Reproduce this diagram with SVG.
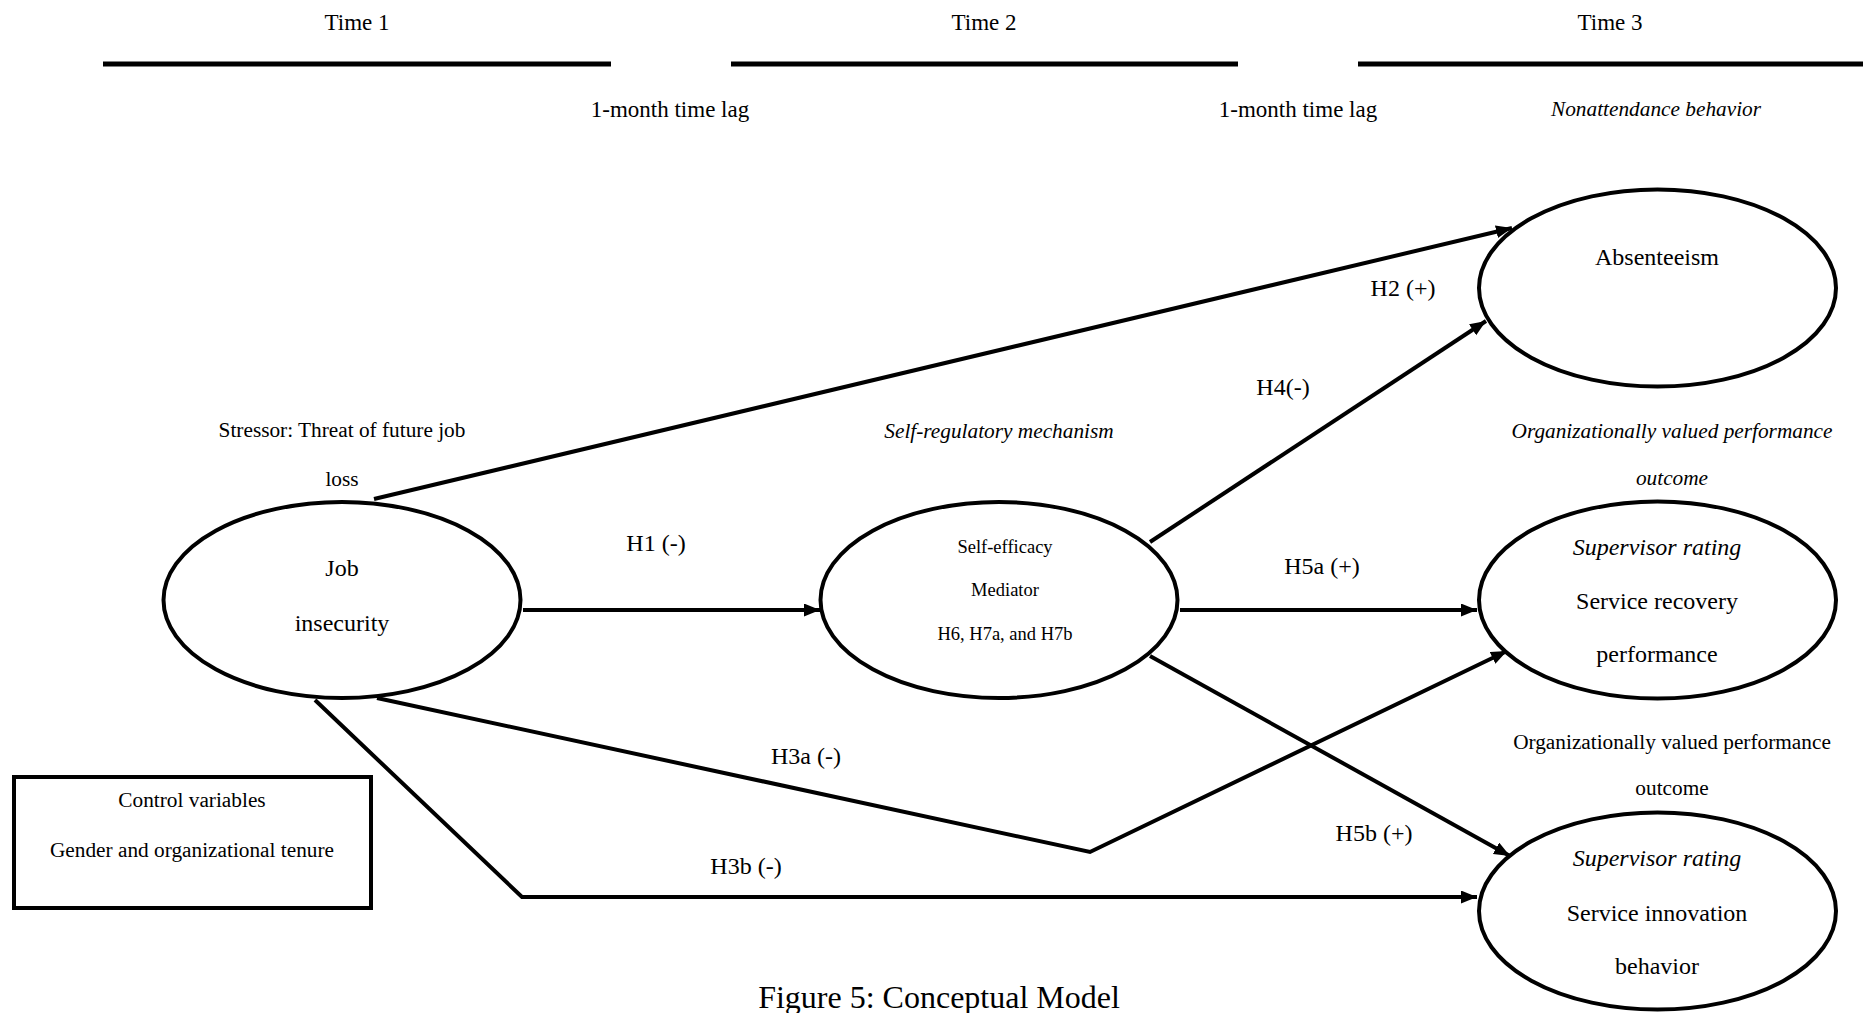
<svg xmlns="http://www.w3.org/2000/svg" width="1863" height="1013" viewBox="0 0 1863 1013" font-family="'Liberation Serif', 'Times New Roman', serif">
<style>
text{font-family:"Liberation Serif","Times New Roman",serif;fill:#000;text-anchor:middle}
.t23{font-size:23px}
.t21{font-size:21.3px}
.t24{font-size:24px}
.t18{font-size:18.5px}
.it{font-style:italic}
.node{fill:#fff;stroke:#000;stroke-width:4}
.bar{stroke:#000;stroke-width:5}
.conn{fill:none;stroke:#000;stroke-width:4;stroke-linejoin:miter}
</style>
<defs>
<marker id="arrow" markerUnits="userSpaceOnUse" markerWidth="18" markerHeight="14" refX="16" refY="6.5" orient="auto">
<path d="M0,0 L16,6.5 L0,13 z" fill="#000"/>
</marker>
</defs>
<rect width="1863" height="1013" fill="#fff"/>
<g id="timeline">
<line class="bar" x1="103" y1="64" x2="611" y2="64"/>
<line class="bar" x1="731" y1="64" x2="1238" y2="64"/>
<line class="bar" x1="1358" y1="64" x2="1863" y2="64"/>
<text class="t23" x="357" y="30">Time 1</text>
<text class="t23" x="984" y="30">Time 2</text>
<text class="t23" x="1610" y="30">Time 3</text>
<text class="t23" x="670" y="117">1-month time lag</text>
<text class="t23" x="1298" y="117">1-month time lag</text>
<text class="t21 it" x="1656" y="116">Nonattendance behavior</text>
</g>
<g id="connectors">
<line class="conn" x1="374" y1="499" x2="1512" y2="228" marker-end="url(#arrow)"/>
<line class="conn" x1="523" y1="610" x2="820" y2="610" marker-end="url(#arrow)"/>
<line class="conn" x1="1150" y1="542" x2="1486" y2="321" marker-end="url(#arrow)"/>
<line class="conn" x1="1180" y1="610" x2="1477" y2="610" marker-end="url(#arrow)"/>
<line class="conn" x1="1150" y1="656" x2="1510" y2="856" marker-end="url(#arrow)"/>
<polyline class="conn" points="377,698 1090,852 1507,651" marker-end="url(#arrow)"/>
<polyline class="conn" points="315,700 522,897 1477,897" marker-end="url(#arrow)"/>
<text class="t24" x="656" y="551">H1 (-)</text>
<text class="t24" x="1403" y="296">H2 (+)</text>
<text class="t24" x="1283" y="395">H4(-)</text>
<text class="t24" x="1322" y="574">H5a (+)</text>
<text class="t24" x="806" y="764">H3a (-)</text>
<text class="t24" x="746" y="874">H3b (-)</text>
<text class="t24" x="1374" y="841">H5b (+)</text>
</g>
<g id="job-insecurity">
<text class="t21" x="342" y="437">Stressor: Threat of future job</text>
<text class="t21" x="342" y="486">loss</text>
<ellipse class="node" cx="342" cy="600" rx="178.5" ry="98"/>
<text class="t24" x="342" y="576">Job</text>
<text class="t24" x="342" y="631">insecurity</text>
</g>
<g id="self-efficacy">
<text class="t21 it" x="999" y="438">Self-regulatory mechanism</text>
<ellipse class="node" cx="999" cy="600" rx="178.5" ry="98"/>
<text class="t18" x="1005" y="553">Self-efficacy</text>
<text class="t18" x="1005" y="596">Mediator</text>
<text class="t18" x="1005" y="640">H6, H7a, and H7b</text>
</g>
<g id="absenteeism">
<ellipse class="node" cx="1657.5" cy="288" rx="178.5" ry="98.5"/>
<text class="t24" x="1657" y="265">Absenteeism</text>
</g>
<g id="service-recovery">
<text class="t21 it" x="1672" y="438">Organizationally valued performance</text>
<text class="t21 it" x="1672" y="485">outcome</text>
<ellipse class="node" cx="1657.5" cy="600" rx="178.5" ry="98.5"/>
<text class="t24 it" x="1657" y="555">Supervisor rating</text>
<text class="t24" x="1657" y="609">Service recovery</text>
<text class="t24" x="1657" y="662">performance</text>
</g>
<g id="service-innovation">
<text class="t21" x="1672" y="749">Organizationally valued performance</text>
<text class="t21" x="1672" y="795">outcome</text>
<ellipse class="node" cx="1657.5" cy="911" rx="178.5" ry="98.5"/>
<text class="t24 it" x="1657" y="866">Supervisor rating</text>
<text class="t24" x="1657" y="921">Service innovation</text>
<text class="t24" x="1657" y="974">behavior</text>
</g>
<g id="control-variables">
<rect class="node" x="14" y="777" width="357" height="131"/>
<text class="t21" x="192" y="807">Control variables</text>
<text class="t21" x="192" y="857">Gender and organizational tenure</text>
</g>
<text x="939" y="1008" style="font-size:32px">Figure 5: Conceptual Model</text>
</svg>
